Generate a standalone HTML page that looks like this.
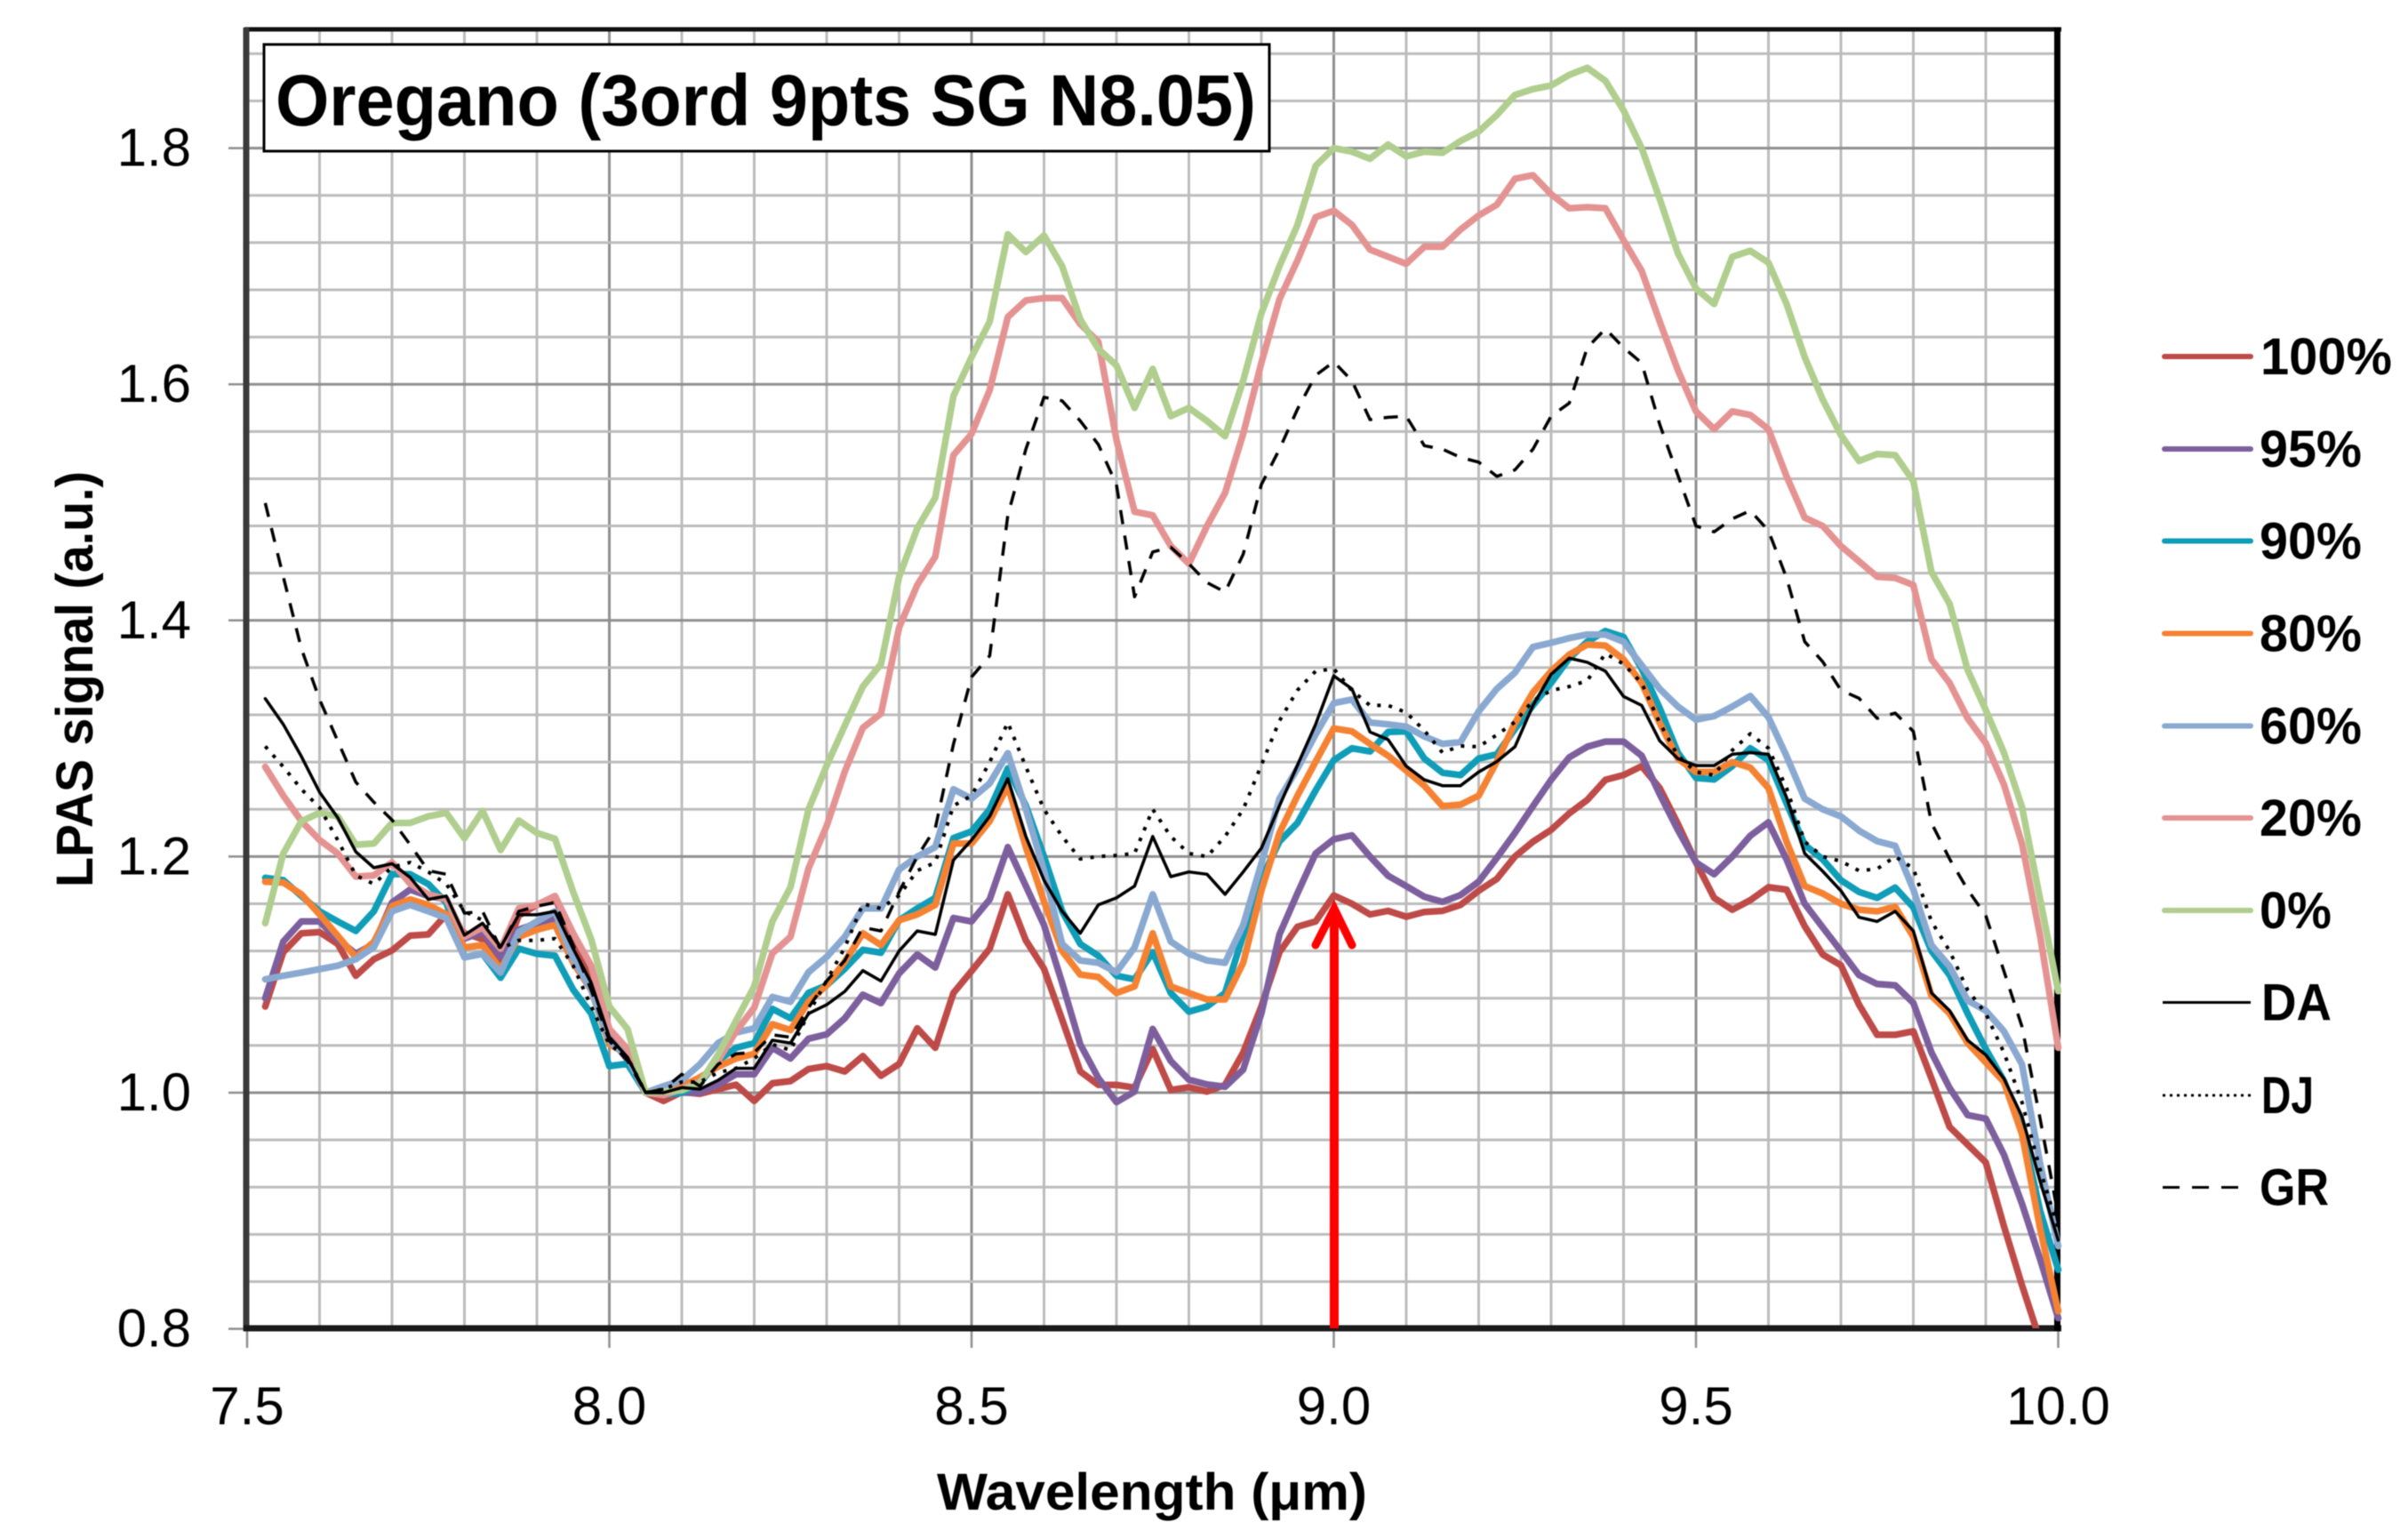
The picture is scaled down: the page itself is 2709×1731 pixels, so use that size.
<!DOCTYPE html>
<html lang="en">
<head>
<meta charset="utf-8">
<title>Oregano LPAS signal chart</title>
<style>
  html, body { margin: 0; padding: 0; background: #ffffff; }
  body { width: 2709px; height: 1731px; overflow: hidden; }
  svg { display: block; font-family: "Liberation Sans", sans-serif; filter: blur(0.6px); }
</style>
</head>
<body>
<svg id="chart" width="2709" height="1731" viewBox="0 0 2709 1731" xmlns="http://www.w3.org/2000/svg">
  <defs>
    <clipPath id="plot-clip"><rect x="270" y="30" width="2052" height="1464"></rect></clipPath>
  </defs>
  <rect x="0" y="0" width="2709" height="1731" fill="#ffffff"></rect>
  <g id="grid"></g>
  <g id="ticks"></g>
  <g>
    <line x1="275" y1="33" x2="2319" y2="33" stroke="#111111" stroke-width="5"></line>
    <line x1="277" y1="31" x2="277" y2="1497" stroke="#3a3a3a" stroke-width="7"></line>
    <line x1="274" y1="1494" x2="2319" y2="1494" stroke="#1a1a1a" stroke-width="7"></line>
    <line x1="2314.5" y1="31" x2="2314.5" y2="1497" stroke="#000000" stroke-width="7"></line>
  </g>
  <g id="series" clip-path="url(#plot-clip)"></g>
  <g>
    <line x1="1501" y1="1494" x2="1501" y2="1026" stroke="#ff0000" stroke-width="10"></line>
    <polyline points="1480,1063 1501,1022 1521,1063" fill="none" stroke="#ff0000" stroke-width="9" stroke-linecap="round" stroke-linejoin="miter"></polyline>
  </g>
  <g>
    <rect x="297" y="50" width="1131" height="120" fill="#ffffff" stroke="#000000" stroke-width="3"></rect>
    <text x="310" y="141" font-size="82" font-weight="700" fill="#000000" textLength="1103" lengthAdjust="spacingAndGlyphs">Oregano (3ord 9pts SG N8.05)</text>
  </g>
  <g id="tick-labels" font-size="60" fill="#000000"></g>
  <text x="1054" y="1698" font-size="58" font-weight="700" fill="#000000" textLength="484" lengthAdjust="spacingAndGlyphs">Wavelength (μm)</text>
  <text transform="translate(104,998) rotate(-90)" x="0" y="0" font-size="58" font-weight="700" fill="#000000" textLength="468" lengthAdjust="spacingAndGlyphs">LPAS signal (a.u.)</text>
  <g font-size="58" font-weight="700" fill="#000000">
    <g>
      <line x1="2435" y1="401" x2="2532" y2="401" stroke="#be4b48" stroke-width="6" stroke-linecap="round"></line>
      <text x="2543" y="421" textLength="148" lengthAdjust="spacingAndGlyphs">100%</text>
    </g>
    <g>
      <line x1="2435" y1="505" x2="2532" y2="505" stroke="#7d5f9e" stroke-width="6" stroke-linecap="round"></line>
      <text x="2542" y="525" textLength="115" lengthAdjust="spacingAndGlyphs">95%</text>
    </g>
    <g>
      <line x1="2435" y1="608.5" x2="2532" y2="608.5" stroke="#0f9db8" stroke-width="6" stroke-linecap="round"></line>
      <text x="2542" y="628.5" textLength="115" lengthAdjust="spacingAndGlyphs">90%</text>
    </g>
    <g>
      <line x1="2435" y1="712.5" x2="2532" y2="712.5" stroke="#f58232" stroke-width="6" stroke-linecap="round"></line>
      <text x="2542" y="732.5" textLength="115" lengthAdjust="spacingAndGlyphs">80%</text>
    </g>
    <g>
      <line x1="2435" y1="816.5" x2="2532" y2="816.5" stroke="#8aa9d1" stroke-width="6" stroke-linecap="round"></line>
      <text x="2542" y="836.5" textLength="115" lengthAdjust="spacingAndGlyphs">60%</text>
    </g>
    <g>
      <line x1="2435" y1="920" x2="2532" y2="920" stroke="#e49392" stroke-width="6" stroke-linecap="round"></line>
      <text x="2542" y="940" textLength="115" lengthAdjust="spacingAndGlyphs">20%</text>
    </g>
    <g>
      <line x1="2435" y1="1024" x2="2532" y2="1024" stroke="#b0ce8e" stroke-width="6" stroke-linecap="round"></line>
      <text x="2542" y="1044" textLength="81" lengthAdjust="spacingAndGlyphs">0%</text>
    </g>
    <g>
      <line x1="2433" y1="1127.5" x2="2532" y2="1127.5" stroke="#000000" stroke-width="3"></line>
      <text x="2544" y="1147.5" textLength="79" lengthAdjust="spacingAndGlyphs">DA</text>
    </g>
    <g>
      <line x1="2433" y1="1232" x2="2532" y2="1232" stroke="#000000" stroke-width="3" stroke-dasharray="3 5"></line>
      <text x="2544" y="1252" textLength="59" lengthAdjust="spacingAndGlyphs">DJ</text>
    </g>
    <g>
      <line x1="2433" y1="1335.5" x2="2519" y2="1335.5" stroke="#000000" stroke-width="3" stroke-dasharray="19 14"></line>
      <text x="2542" y="1355.5" textLength="78" lengthAdjust="spacingAndGlyphs">GR</text>
    </g>
  </g>
</svg>
<script>
const wavelengths = [
  7.525,7.55,7.575,7.6,7.625,7.65,7.675,7.7,7.725,7.75,
  7.775,7.8,7.825,7.85,7.875,7.9,7.925,7.95,7.975,8.0,
  8.025,8.05,8.075,8.1,8.125,8.15,8.175,8.2,8.225,8.25,
  8.275,8.3,8.325,8.35,8.375,8.4,8.425,8.45,8.475,8.5,
  8.525,8.55,8.575,8.6,8.625,8.65,8.675,8.7,8.725,8.75,
  8.775,8.8,8.825,8.85,8.875,8.9,8.925,8.95,8.975,9.0,
  9.025,9.05,9.075,9.1,9.125,9.15,9.175,9.2,9.225,9.25,
  9.275,9.3,9.325,9.35,9.375,9.4,9.425,9.45,9.475,9.5,
  9.525,9.55,9.575,9.6,9.625,9.65,9.675,9.7,9.725,9.75,
  9.775,9.8,9.825,9.85,9.875,9.9,9.925,9.95,9.975,10.0
];
const values100 = [
  1.073,1.119,1.135,1.136,1.126,1.099,1.113,1.1205,1.133,1.134,
  1.151,1.135,1.13,1.11,1.15,1.159,1.165,1.13,1.096,1.047,
  1.03,1.0,0.993,1.0005,0.999,1.003,1.0068,0.993,1.008,1.0098,
  1.02,1.0225,1.018,1.031,1.0143,1.0243,1.0545,1.038,1.0844,1.103,
  1.122,1.168,1.129,1.105,1.062,1.018,1.0066,1.0066,1.0043,1.037,
  1.0023,1.0046,1.0009,1.0066,1.034,1.073,1.119,1.1406,1.145,1.167,
  1.16,1.151,1.154,1.149,1.153,1.154,1.159,1.171,1.181,1.2,
  1.2126,1.2226,1.2365,1.248,1.265,1.269,1.2766,1.258,1.2277,1.195,
  1.165,1.155,1.163,1.174,1.172,1.141,1.117,1.108,1.0745,1.049,
  1.049,1.052,1.012,0.971,0.956,0.941,0.887,0.837,0.79,0.72
];
const values95 = [
  1.08,1.128,1.145,1.145,1.13,1.1176,1.126,1.161,1.172,1.1666,
  1.164,1.1305,1.136,1.115,1.138,1.1435,1.148,1.116,1.09,1.047,
  1.028,1.0,1.0,1.0,1.0,1.0068,1.0156,1.0156,1.038,1.029,
  1.0457,1.0494,1.063,1.083,1.0758,1.101,1.117,1.106,1.148,1.145,
  1.1637,1.208,1.175,1.142,1.093,1.041,1.0124,0.992,1.001,1.054,
  1.0268,1.011,1.007,1.005,1.0196,1.067,1.134,1.169,1.2026,1.2147,
  1.218,1.2,1.1837,1.175,1.166,1.1616,1.1674,1.1787,1.1988,1.22,
  1.2427,1.265,1.284,1.293,1.2974,1.2974,1.2854,1.2528,1.2226,1.195,
  1.185,1.2,1.2176,1.229,1.1975,1.16,1.14,1.12,1.0996,1.092,
  1.091,1.076,1.034,1.004,0.981,0.978,0.9475,0.906,0.859,0.809
];
const values90 = [
  1.182,1.18,1.1666,1.1536,1.145,1.137,1.1536,1.185,1.185,1.1767,
  1.161,1.1147,1.1176,1.0974,1.122,1.1176,1.116,1.0873,1.067,1.0225,
  1.0245,1.0,0.998,1.0,1.008,1.027,1.038,1.042,1.071,1.063,
  1.0846,1.091,1.105,1.121,1.1185,1.146,1.156,1.165,1.2156,1.2213,
  1.24,1.2746,1.243,1.2,1.1536,1.126,1.116,1.099,1.096,1.119,
  1.0844,1.0686,1.073,1.0844,1.1334,1.181,1.2127,1.2285,1.256,1.2816,
  1.2917,1.289,1.3055,1.306,1.283,1.271,1.269,1.283,1.2866,1.308,
  1.328,1.347,1.368,1.382,1.391,1.386,1.359,1.3256,1.288,1.2666,
  1.2653,1.2766,1.2917,1.2816,1.245,1.21,1.1975,1.18,1.17,1.165,
  1.1737,1.157,1.12,1.0996,1.067,1.037,1.01,0.97,0.9,0.85
];
const values80 = [
  1.1787,1.178,1.168,1.151,1.133,1.1147,1.1277,1.158,1.1637,1.159,
  1.151,1.123,1.125,1.1046,1.132,1.138,1.142,1.11,1.087,1.041,
  1.0326,1.0,1.0,1.0055,1.013,1.022,1.029,1.033,1.058,1.053,
  1.077,1.091,1.111,1.135,1.125,1.146,1.151,1.159,1.211,1.211,
  1.23,1.26,1.208,1.162,1.12,1.1,1.098,1.0844,1.09,1.135,
  1.09,1.0844,1.079,1.079,1.11,1.171,1.22,1.2516,1.2804,1.3085,
  1.306,1.2954,1.2854,1.2728,1.26,1.2427,1.244,1.2515,1.2804,1.313,
  1.339,1.357,1.371,1.3795,1.3787,1.367,1.347,1.313,1.283,1.2716,
  1.2716,1.28,1.2753,1.258,1.2126,1.175,1.1687,1.16,1.155,1.1536,
  1.1574,1.132,1.082,1.067,1.042,1.0256,1.009,0.965,0.885,0.815
];
const values60 = [
  1.096,1.099,1.1017,1.1046,1.1075,1.113,1.1233,1.1536,1.159,1.1536,
  1.148,1.1147,1.1176,1.1017,1.136,1.145,1.1536,1.113,1.087,1.044,
  1.03,1.0,1.0055,1.0105,1.024,1.042,1.051,1.0545,1.081,1.077,
  1.102,1.115,1.132,1.156,1.156,1.189,1.2,1.208,1.257,1.249,
  1.262,1.2876,1.24,1.188,1.126,1.112,1.11,1.102,1.123,1.168,
  1.128,1.1176,1.112,1.11,1.142,1.194,1.249,1.2746,1.3035,1.33,
  1.333,1.3135,1.312,1.31,1.3017,1.2954,1.297,1.323,1.342,1.3557,
  1.3775,1.381,1.385,1.388,1.388,1.382,1.362,1.342,1.327,1.316,
  1.319,1.327,1.336,1.318,1.285,1.249,1.24,1.234,1.222,1.213,
  1.209,1.172,1.125,1.107,1.078,1.0695,1.052,1.024,0.94,0.87
];
const values20 = [
  1.276,1.2516,1.23,1.214,1.2026,1.183,1.184,1.195,1.177,1.168,
  1.164,1.132,1.14,1.122,1.156,1.159,1.1666,1.135,1.1075,1.054,
  1.037,1.0,0.998,1.003,1.0095,1.027,1.052,1.072,1.118,1.132,
  1.19,1.226,1.272,1.309,1.321,1.394,1.43,1.454,1.54,1.558,
  1.595,1.657,1.671,1.673,1.673,1.651,1.636,1.553,1.492,1.489,
  1.463,1.448,1.48,1.508,1.558,1.618,1.672,1.705,1.7415,1.747,
  1.735,1.714,1.708,1.702,1.7165,1.7165,1.731,1.743,1.752,1.774,
  1.777,1.761,1.749,1.75,1.749,1.722,1.696,1.653,1.612,1.577,
  1.562,1.577,1.574,1.562,1.522,1.487,1.48,1.463,1.45,1.437,
  1.436,1.43,1.367,1.347,1.317,1.296,1.261,1.211,1.133,1.038
];
const values0 = [
  1.1435,1.2026,1.23,1.237,1.234,1.21,1.211,1.2285,1.2285,1.234,
  1.237,1.2155,1.2386,1.2055,1.2305,1.22,1.215,1.17,1.13,1.073,
  1.054,1.0,1.001,1.002,1.008,1.032,1.061,1.09,1.145,1.174,
  1.24,1.277,1.311,1.344,1.363,1.437,1.478,1.504,1.59,1.623,
  1.653,1.727,1.712,1.726,1.7,1.655,1.63,1.616,1.58,1.613,
  1.573,1.58,1.569,1.556,1.603,1.66,1.7,1.735,1.785,1.8,
  1.797,1.791,1.803,1.793,1.797,1.796,1.806,1.814,1.828,1.845,
  1.85,1.853,1.862,1.868,1.857,1.832,1.8,1.757,1.711,1.681,
  1.668,1.708,1.713,1.703,1.668,1.623,1.587,1.557,1.535,1.541,
  1.54,1.518,1.441,1.414,1.358,1.324,1.288,1.242,1.164,1.086
];
const valuesDA = [
  1.3337,1.312,1.2847,1.2545,1.233,1.204,1.1905,1.194,1.1824,1.1637,
  1.1666,1.1334,1.1435,1.1233,1.1507,1.1507,1.1536,1.122,1.093,1.047,
  1.03,1.0,1.0,1.0043,1.003,1.0105,1.0206,1.0206,1.0444,1.042,
  1.067,1.0745,1.0858,1.1034,1.0946,1.12,1.137,1.134,1.197,1.214,
  1.234,1.266,1.217,1.18,1.1536,1.135,1.159,1.165,1.175,1.217,
  1.183,1.187,1.185,1.168,1.187,1.207,1.243,1.2775,1.312,1.353,
  1.342,1.3055,1.299,1.2766,1.265,1.26,1.26,1.2716,1.2804,1.293,
  1.328,1.3544,1.368,1.3645,1.357,1.3356,1.328,1.298,1.283,1.277,
  1.277,1.2866,1.288,1.2866,1.25,1.2026,1.1875,1.171,1.1486,1.145,
  1.1536,1.137,1.0846,1.0695,1.0444,1.032,1.012,0.98,0.925,0.875
];
const valuesDJ = [
  1.2934,1.276,1.257,1.2415,1.214,1.184,1.1767,1.191,1.195,1.187,
  1.1767,1.1536,1.146,1.122,1.129,1.129,1.1305,1.1075,1.073,1.041,
  1.03,1.0,1.003,1.009,1.009,1.017,1.0206,1.029,1.041,1.036,
  1.067,1.095,1.123,1.16,1.156,1.167,1.188,1.195,1.243,1.2516,
  1.28,1.3135,1.276,1.24,1.217,1.198,1.2,1.201,1.2026,1.24,
  1.217,1.2026,1.2,1.217,1.24,1.2775,1.315,1.341,1.357,1.359,
  1.3406,1.328,1.328,1.322,1.3067,1.288,1.2937,1.293,1.303,1.314,
  1.332,1.3406,1.344,1.349,1.372,1.363,1.347,1.313,1.2854,1.2716,
  1.269,1.29,1.304,1.2917,1.258,1.2126,1.2,1.196,1.188,1.1895,
  1.2,1.19,1.145,1.12,1.087,1.067,1.034,0.992,0.935,0.885
];
const valuesGR = [
  1.4994,1.437,1.376,1.333,1.298,1.263,1.246,1.231,1.21,1.188,
  1.185,1.152,1.1536,1.122,1.1536,1.158,1.161,1.125,1.087,1.044,
  1.027,1.0,1.003,1.0156,1.0055,1.024,1.033,1.034,1.049,1.047,
  1.072,1.0946,1.112,1.14,1.137,1.17,1.2,1.224,1.295,1.352,
  1.37,1.489,1.545,1.589,1.586,1.569,1.549,1.515,1.42,1.458,
  1.462,1.448,1.432,1.424,1.456,1.515,1.545,1.579,1.6075,1.619,
  1.603,1.57,1.572,1.573,1.548,1.545,1.538,1.534,1.522,1.5275,
  1.545,1.573,1.584,1.631,1.647,1.631,1.618,1.566,1.523,1.48,
  1.475,1.486,1.493,1.476,1.436,1.382,1.365,1.341,1.334,1.317,
  1.3215,1.306,1.2285,1.198,1.172,1.15,1.103,1.056,0.978,0.896
];
const xMajorTicks = ["7.5","8.0","8.5","9.0","9.5","10.0"];
const yMajorTicks = ["0.8","1.0","1.2","1.4","1.6","1.8"];

const SVG_NS = "http://www.w3.org/2000/svg";
function xScale(w) { return 278 + (w - 7.5) * 815; }
function yScale(v) { return 1229 - (v - 1) * 1328; }

function makeLine(x1, y1, x2, y2, color, width) {
  const el = document.createElementNS(SVG_NS, "line");
  el.setAttribute("x1", x1);
  el.setAttribute("y1", y1);
  el.setAttribute("x2", x2);
  el.setAttribute("y2", y2);
  el.setAttribute("stroke", color);
  el.setAttribute("stroke-width", width);
  return el;
}

const gridGroup = document.getElementById("grid");
for (let i = 1; i < 25; i++) {
  const w = 7.5 + i * 0.1;
  const major = i % 5 === 0;
  const gridLine = makeLine(xScale(w), 33, xScale(w), 1494, major ? "#8f8f8f" : "#bcbcbc", 3);
  
  
  gridGroup.appendChild(gridLine);
}
for (let i = 1; i <= 27; i++) {
  const v = 0.8 + i * 0.04;
  const major = i % 5 === 0;
  const gridLine = makeLine(278, yScale(v), 2315, yScale(v), major ? "#8f8f8f" : "#bcbcbc", 3);
  
  
  gridGroup.appendChild(gridLine);
}

const tickGroup = document.getElementById("ticks");
const labelGroup = document.getElementById("tick-labels");
xMajorTicks.forEach(function (label) {
  const w = parseFloat(label);
  const tick = makeLine(xScale(w), 1494, xScale(w), 1516, "#8f8f8f", 2.5);
  
  
  tickGroup.appendChild(tick);
  const text = document.createElementNS(SVG_NS, "text");
  text.setAttribute("x", xScale(w));
  text.setAttribute("y", 1602);
  text.setAttribute("text-anchor", "middle");
  text.textContent = label;
  
  
  labelGroup.appendChild(text);
});
yMajorTicks.forEach(function (label) {
  const v = parseFloat(label);
  const tick = makeLine(257, yScale(v), 278, yScale(v), "#8f8f8f", 2.5);
  
  
  tickGroup.appendChild(tick);
  const text = document.createElementNS(SVG_NS, "text");
  text.setAttribute("x", 215);
  text.setAttribute("y", yScale(v) + 20);
  text.setAttribute("text-anchor", "end");
  text.textContent = label;
  
  
  labelGroup.appendChild(text);
});

function drawSeries(values, color, width, dash, name) {
  const path = document.createElementNS(SVG_NS, "polyline");
  const points = values.map(function (v, i) {
    return xScale(wavelengths[i]).toFixed(1) + "," + yScale(v).toFixed(1);
  });
  path.setAttribute("points", points.join(" "));
  path.setAttribute("fill", "none");
  path.setAttribute("stroke", color);
  path.setAttribute("stroke-width", width);
  path.setAttribute("stroke-linejoin", "round");
  if (dash) {
    path.setAttribute("stroke-dasharray", dash);
  } else {
    path.setAttribute("stroke-linecap", "round");
  }
  
  
  document.getElementById("series").appendChild(path);
}

drawSeries(values100, "#be4b48", 7.5, null, "series-100-percent");
drawSeries(values95, "#7d5f9e", 7.5, null, "series-95-percent");
drawSeries(values90, "#0f9db8", 7.5, null, "series-90-percent");
drawSeries(values80, "#f58232", 7.5, null, "series-80-percent");
drawSeries(values60, "#8aa9d1", 7.5, null, "series-60-percent");
drawSeries(values20, "#e49392", 7.5, null, "series-20-percent");
drawSeries(values0, "#b0ce8e", 7.5, null, "series-0-percent");
drawSeries(valuesDA, "#000000", 3.5, null, "series-da");
drawSeries(valuesDJ, "#000000", 4, "4 9", "series-dj");
drawSeries(valuesGR, "#000000", 3.5, "16 13", "series-gr");
</script>
</body>
</html>
